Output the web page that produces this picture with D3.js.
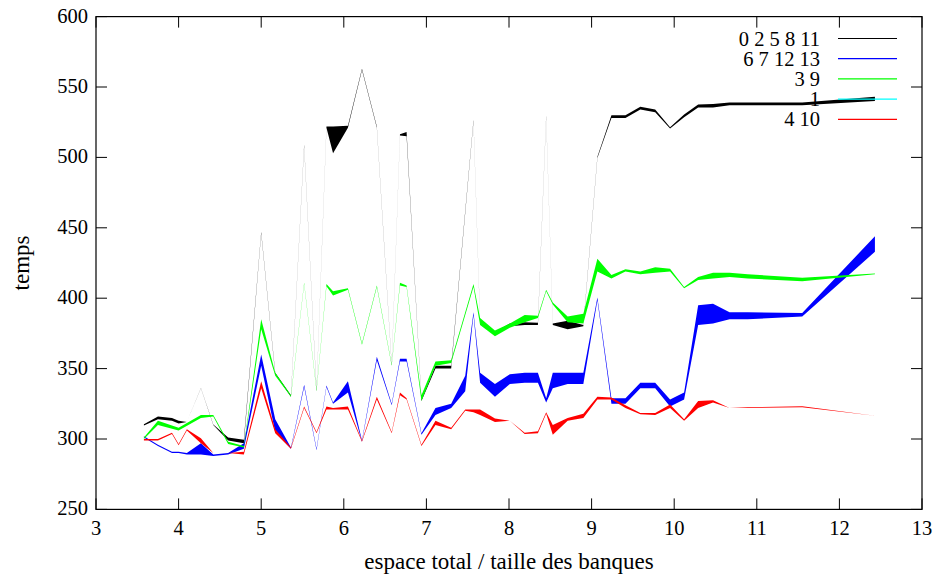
<!DOCTYPE html>
<html>
<head>
<meta charset="utf-8">
<script src="https://cdn.jsdelivr.net/npm/d3@7"></script>
<style>
  body { margin: 0; background: #fff; }
  text { font-family: "Liberation Serif", "Times New Roman", serif; font-size: 20.5px; fill: #000; }
  text.title { font-size: 23px; }
</style>
</head>
<body>
<svg width="938" height="576"></svg>
<script>
// x positions (espace total / taille des banques)
const xs = [3.58, 3.75, 3.92, 4.00, 4.10, 4.27, 4.42, 4.60, 4.79, 5.00, 5.17, 5.36, 5.52, 5.67, 5.79, 5.87,
  6.05, 6.22, 6.40, 6.58, 6.68, 6.76, 6.94, 7.11, 7.30, 7.47, 7.57, 7.65, 7.83, 8.01, 8.19, 8.35, 8.45,
  8.53, 8.71, 8.90, 9.07, 9.24, 9.41, 9.59, 9.77, 9.95, 10.12, 10.29, 10.47, 10.67, 10.89, 11.55, 12.43];

// each series is a band between a low and a high curve (null = no point)
const blackLo = [309.5, 314, 313, 311, 312, 336, 310, 299, 297, 446, 346, 330, 508, 334, 521, 503,
  521, 562, 521, 352, 515.5, 515, 327, 350, 350, null, 525.5, 383, 375, 380, 381, 381, 528.5,
  381, 378, 380, 499.5, 528, 528, 534, 532, 520.5, 528.5, 535.5, 535.5, 537, 537, 537, 540];
const blackHi = [310.5, 316, 315, 313, 312.05, 336.15, 310.3, 301, 299.5, 447, 347, 331, 509, 335, 522, 522,
  522.5, 563, 522, 353, 516.5, 518, 328, 352, 352, null, 526.5, 384, 376, 382, 383, 382.5, 529.5,
  382, 384, 381, 500.5, 530, 530, 536, 534, 521.5, 530.5, 537.5, 538, 539, 539, 539, 543];

const blueLo = [301, 295, 290, 290, 289, 289, 288, 289, 293, 352, 305, 293, 337, 292, 337, 325,
  333, 298, 356, 324, 355, 355, 303, 317, 322, 334, 388, 340, 330, 339, 340, 340, 326,
  336, 339, 339, 398.5, 325, 325, 336, 336, 323, 328, 381, 382, 385, 385, 387, 433];
const blueHi = [302, 296, 291, 291, 290, 297, 289, 290, 297, 360, 314, 294, 338.5, 293, 338, 326,
  341, 299, 358.5, 325, 357, 357, 304, 322, 325, 345, 390, 347, 339, 346, 347, 347, 329,
  347, 347, 347, 400.5, 329, 329, 340, 340, 328, 333, 395, 396, 390, 390, 389.5, 444];

const greenLo = [300, 310, null, 306, null, 315, 316, 296.5, 294, 378, 345, 330, 410, 334, 408.5, 402,
  406, 367, 408, 352, 409, 408, 327, 352, 354, null, 408, 381, 373, 379, 383, 386, 405,
  395.5, 383, 382, 419, 414, 419, 417, 418, 419, 407, 413, 414, 415, 414, 412, 417];
const greenHi = [301, 313, null, 308, null, 317, 317, 298, 295, 385, 347, 331, 411, 335, 410, 405,
  407, 368, 409, 353, 411, 409, 331, 355, 356, null, 410, 386, 377, 382, 388, 387.5, 406,
  397, 387, 389, 428, 416.5, 420.5, 419, 422, 421, 408, 415, 418, 418, 417, 414.5, 417.6];

// series "1" is entirely covered by the others
const cyanLo = [];
const cyanHi = [];

const redLo = [299, 299, 303.5, 295.5, 306, 297, 290, 290, 289, 336, 304, 293, 322, 304, 321, 321,
  321, 298, 328, 304, 331, 328, 295, 310, 307, 320, 319, 317, 312, 313, 303.5, 304, 318,
  303, 313, 315, 328, 328, 322, 317.5, 317, 322, 313, 322, 326, 322, 322, 322.5, 316.5];
const redHi = [300, 300, 304.5, 296.5, 307, 300.5, 290, 290, 291, 341, 307, 294, 323, 305, 323, 322,
  323, 299, 330, 305, 333, 329, 296, 313, 308, 321, 321, 321, 314.5, 313, 304.5, 305.5, 319,
  310, 315, 318, 330, 329.5, 324, 318.5, 318.5, 324.5, 314, 327, 327.5, 322, 322.6, 323.2, 316.6];

const seriesNames = ["0 2 5 8 11", "6 7 12 13", "3 9", "1", "4 10"];
const seriesColors = ["#000000", "#0000ff", "#00ff00", "#00ffff", "#ff0000"];
const seriesLo = [blackLo, blueLo, greenLo, cyanLo, redLo];
const seriesHi = [blackHi, blueHi, greenHi, cyanHi, redHi];

const xTicks = [3, 4, 5, 6, 7, 8, 9, 10, 11, 12, 13];
const yTicks = [250, 300, 350, 400, 450, 500, 550, 600];

const svg = d3.select("svg");
const margin = { top: 16.6, right: 16, bottom: 66.6, left: 96 };
const width = svg.attr("width") - margin.left - margin.right;
const height = svg.attr("height") - margin.top - margin.bottom;

const chart = svg.append("g")
    .attr("transform", `translate(${margin.left},${margin.top})`);

const xScale = d3.scaleLinear().domain([3, 13]).range([0, width]);
const yScale = d3.scaleLinear().domain([250, 600]).range([height, 0]);

// bands, drawn in legend order
const area = d3.area()
    .x(d => xScale(d.x))
    .y0(d => yScale(d.lo))
    .y1(d => yScale(d.hi));

seriesNames.forEach((name, k) => {
    const pts = xs.map((v, i) => ({ x: v, lo: seriesLo[k][i], hi: seriesHi[k][i] }))
        .filter(d => d.lo != null && d.hi != null);
    if (!pts.length) return;
    chart.append("path")
        .datum(pts)
        .attr("d", area)
        .attr("fill", seriesColors[k])
        .attr("stroke", "none");
});

// ticks, inward on all four sides
const tickLen = 11;
chart.selectAll(".xt")
    .data(xTicks)
    .enter().append("path")
    .attr("d", d => `M${xScale(d)},${height}v${-tickLen}M${xScale(d)},0v${tickLen}`)
    .attr("stroke", "#000").attr("stroke-width", 1);
chart.selectAll(".yt")
    .data(yTicks)
    .enter().append("path")
    .attr("d", d => `M0,${yScale(d)}h${tickLen}M${width},${yScale(d)}h${-tickLen}`)
    .attr("stroke", "#000").attr("stroke-width", 1);

// border
chart.append("rect")
    .attr("x", 0).attr("y", 0)
    .attr("width", width).attr("height", height)
    .attr("fill", "none").attr("stroke", "#000").attr("stroke-width", 1.2);

// tick labels
chart.selectAll(".xl")
    .data(xTicks)
    .enter().append("text")
    .attr("x", d => xScale(d))
    .attr("y", height + 26)
    .attr("text-anchor", "middle")
    .text(d => d);
chart.selectAll(".yl")
    .data(yTicks)
    .enter().append("text")
    .attr("x", -8)
    .attr("y", d => yScale(d) + 6)
    .attr("text-anchor", "end")
    .text(d => d);

// axis titles
chart.append("text")
    .attr("class", "title")
    .attr("x", width / 2)
    .attr("y", height + 60)
    .attr("text-anchor", "middle")
    .text("espace total / taille des banques");
chart.append("text")
    .attr("class", "title")
    .attr("transform", `translate(${-67},${height / 2}) rotate(-90)`)
    .attr("text-anchor", "middle")
    .text("temps");

// legend
const legend = svg.append("g");
seriesNames.forEach((name, k) => {
    const ly = 38.5 + k * 20.2;
    legend.append("text")
        .attr("x", 820)
        .attr("y", ly + 7)
        .attr("text-anchor", "end")
        .text(name);
    legend.append("line")
        .attr("x1", 838).attr("x2", 897)
        .attr("y1", ly).attr("y2", ly)
        .attr("stroke", seriesColors[k])
        .attr("stroke-width", 1.2);
});
</script>
</body>
</html>
